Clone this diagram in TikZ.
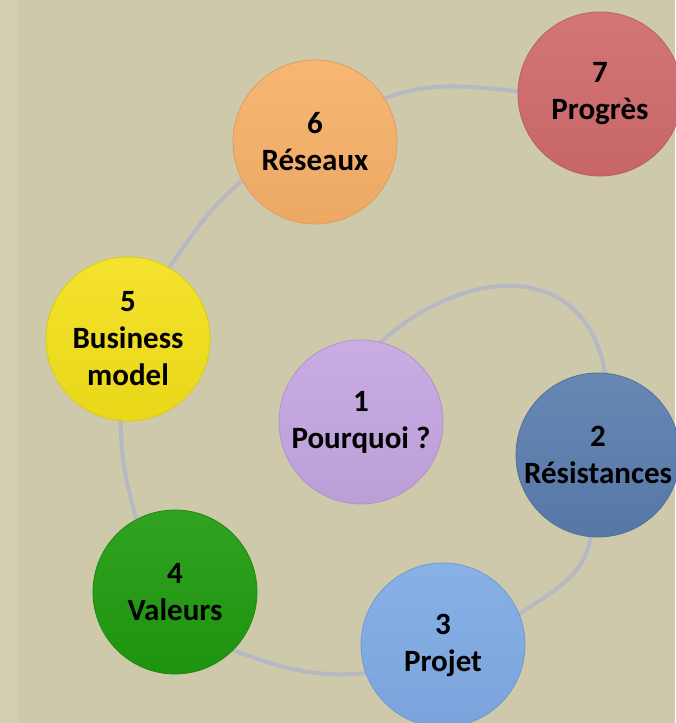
\documentclass[tikz,border=0pt]{standalone}
\usepackage{fontspec}
\setmainfont{Carlito}
\usepackage{xcolor}
\usepackage{tikz}
\usetikzlibrary{positioning,backgrounds,calc}

\definecolor{fond}{HTML}{CDC9AA}
\definecolor{fondclair}{HTML}{D3CFB1}
\definecolor{lien}{HTML}{B6B9C3}
\definecolor{violet1}{HTML}{C4A5E0}
\definecolor{bleu2}{HTML}{5A7DAE}
\definecolor{bleu3}{HTML}{7EAAE4}
\definecolor{vert4}{HTML}{1F9A0E}
\definecolor{jaune5}{HTML}{F3E01A}
\definecolor{orange6}{HTML}{F6B068}
\definecolor{rouge7}{HTML}{D06A6A}

\tikzset{
    etape/.style={circle, minimum size=164pt, inner sep=0pt, align=center,
        top color=#1!92!white, bottom color=#1!96!black, draw=#1!90!black,
        line width=0.8pt, text=black,
        font=\fontsize{31}{37}\selectfont\bfseries},
    spirale/.style={draw=lien, line width=4pt, line cap=round}
}

\begin{document}
\begin{tikzpicture}[x=1pt,y=1pt]
    \useasboundingbox (0,0) rectangle (675,723);

    % Etapes
    \node[etape=violet1] (pourquoi) at (361,301) {1\\Pourquoi ?};
    \node[etape=bleu2] (resist) at (598,268) {2\\Résistances};
    \node[etape=bleu3] (projet) at (443,78) {3\\Projet};
    \node[etape=vert4] (valeurs) at (175,131) {4\\Valeurs};
    \node[etape=jaune5] (business) at (128,384) {5\\Business\\model};
    \node[etape=orange6] (reseaux) at (315,581) {6\\Réseaux};
    \node[etape=rouge7] (progres) at (600,629) {7\\Progrès};

    \begin{scope}[on background layer]
        % Fond
        \fill[fond] (0,0) rectangle (675,723);
        \fill[fondclair] (0,0) rectangle (18,723);
        % Spirale
        \draw[spirale] (pourquoi.76) to[out=42,in=100,looseness=1.3] (resist.85);
        \draw[spirale] (resist.265) to[out=-100,in=35] (projet.22);
        \draw[spirale] (projet.200) to[out=185,in=-20] (valeurs.-45);
        \draw[spirale] (valeurs.118) to[out=105,in=-90] (business.265);
        \draw[spirale] (business.60) to[out=55,in=-140] (reseaux.208);
        \draw[spirale] (reseaux.32) to[out=20,in=175] (progres.178);
    \end{scope}
\end{tikzpicture}
\end{document}
